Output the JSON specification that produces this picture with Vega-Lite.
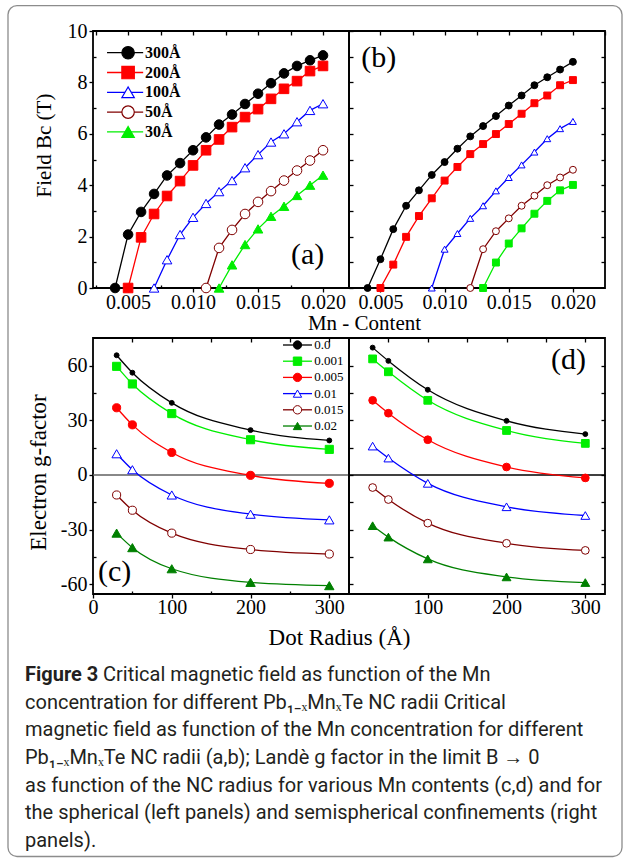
{
"$schema": "https://vega.github.io/schema/vega-lite/v6.json",
"padding": {"left": 7, "top": 4, "right": 3, "bottom": 5},
"bounds": "flush",
"spacing": 620,
"config": {
  "locale": {"number": {"decimal": ".", "thousands": ",", "grouping": [3], "currency": ["$", ""], "minus": "-"}},
  "view": {"stroke": "black", "strokeWidth": 1.8},
  "axis": {"labelFont": "Liberation Serif", "titleFont": "Liberation Serif", "labelFontSize": 20, "titleFontWeight": "normal", "labelColor": "black", "titleColor": "black", "tickColor": "black", "tickWidth": 1.3, "domain": false, "grid": false, "labelFlush": false, "labelOverlap": false, "labelBound": false}
},
"datasets": {
  "a": [
    {"s":"300Å","x":0.004,"y":0},{"s":"300Å","x":0.005,"y":2.08},{"s":"300Å","x":0.006,"y":2.96},{"s":"300Å","x":0.007,"y":3.66},{"s":"300Å","x":0.008,"y":4.38},{"s":"300Å","x":0.009,"y":4.86},{"s":"300Å","x":0.010,"y":5.36},{"s":"300Å","x":0.011,"y":5.86},{"s":"300Å","x":0.012,"y":6.36},{"s":"300Å","x":0.013,"y":6.75},{"s":"300Å","x":0.014,"y":7.16},{"s":"300Å","x":0.015,"y":7.56},{"s":"300Å","x":0.016,"y":7.97},{"s":"300Å","x":0.017,"y":8.35},{"s":"300Å","x":0.018,"y":8.64},{"s":"300Å","x":0.019,"y":8.86},{"s":"300Å","x":0.020,"y":9.05},
    {"s":"200Å","x":0.005,"y":0},{"s":"200Å","x":0.006,"y":1.97},{"s":"200Å","x":0.007,"y":2.88},{"s":"200Å","x":0.008,"y":3.58},{"s":"200Å","x":0.009,"y":4.16},{"s":"200Å","x":0.010,"y":4.77},{"s":"200Å","x":0.011,"y":5.36},{"s":"200Å","x":0.012,"y":5.78},{"s":"200Å","x":0.013,"y":6.26},{"s":"200Å","x":0.014,"y":6.65},{"s":"200Å","x":0.015,"y":6.96},{"s":"200Å","x":0.016,"y":7.36},{"s":"200Å","x":0.017,"y":7.75},{"s":"200Å","x":0.018,"y":8.05},{"s":"200Å","x":0.019,"y":8.44},{"s":"200Å","x":0.020,"y":8.64},
    {"s":"100Å","x":0.007,"y":0},{"s":"100Å","x":0.008,"y":1.10},{"s":"100Å","x":0.009,"y":2.08},{"s":"100Å","x":0.010,"y":2.75},{"s":"100Å","x":0.011,"y":3.29},{"s":"100Å","x":0.012,"y":3.75},{"s":"100Å","x":0.013,"y":4.18},{"s":"100Å","x":0.014,"y":4.68},{"s":"100Å","x":0.015,"y":5.19},{"s":"100Å","x":0.016,"y":5.68},{"s":"100Å","x":0.017,"y":6.0},{"s":"100Å","x":0.018,"y":6.47},{"s":"100Å","x":0.019,"y":6.91},{"s":"100Å","x":0.020,"y":7.17},
    {"s":"50Å","x":0.011,"y":0},{"s":"50Å","x":0.012,"y":1.56},{"s":"50Å","x":0.013,"y":2.26},{"s":"50Å","x":0.014,"y":2.88},{"s":"50Å","x":0.015,"y":3.35},{"s":"50Å","x":0.016,"y":3.77},{"s":"50Å","x":0.017,"y":4.18},{"s":"50Å","x":0.018,"y":4.57},{"s":"50Å","x":0.019,"y":4.96},{"s":"50Å","x":0.020,"y":5.36},
    {"s":"30Å","x":0.012,"y":0},{"s":"30Å","x":0.013,"y":0.9},{"s":"30Å","x":0.014,"y":1.69},{"s":"30Å","x":0.015,"y":2.3},{"s":"30Å","x":0.016,"y":2.79},{"s":"30Å","x":0.017,"y":3.18},{"s":"30Å","x":0.018,"y":3.6},{"s":"30Å","x":0.019,"y":4.0},{"s":"30Å","x":0.020,"y":4.39}
  ],
  "b": [
    {"s":"300Å","x":0.004,"y":0},{"s":"300Å","x":0.005,"y":1.12},{"s":"300Å","x":0.006,"y":2.29},{"s":"300Å","x":0.007,"y":3.2},{"s":"300Å","x":0.008,"y":3.8},{"s":"300Å","x":0.009,"y":4.4},{"s":"300Å","x":0.010,"y":4.9},{"s":"300Å","x":0.011,"y":5.42},{"s":"300Å","x":0.012,"y":5.9},{"s":"300Å","x":0.013,"y":6.3},{"s":"300Å","x":0.014,"y":6.69},{"s":"300Å","x":0.015,"y":7.1},{"s":"300Å","x":0.016,"y":7.49},{"s":"300Å","x":0.017,"y":7.89},{"s":"300Å","x":0.018,"y":8.2},{"s":"300Å","x":0.019,"y":8.5},{"s":"300Å","x":0.020,"y":8.8},
    {"s":"200Å","x":0.005,"y":0},{"s":"200Å","x":0.006,"y":0.91},{"s":"200Å","x":0.007,"y":1.99},{"s":"200Å","x":0.008,"y":2.8},{"s":"200Å","x":0.009,"y":3.49},{"s":"200Å","x":0.010,"y":4.18},{"s":"200Å","x":0.011,"y":4.71},{"s":"200Å","x":0.012,"y":5.21},{"s":"200Å","x":0.013,"y":5.6},{"s":"200Å","x":0.014,"y":5.99},{"s":"200Å","x":0.015,"y":6.38},{"s":"200Å","x":0.016,"y":6.78},{"s":"200Å","x":0.017,"y":7.19},{"s":"200Å","x":0.018,"y":7.49},{"s":"200Å","x":0.019,"y":7.89},{"s":"200Å","x":0.020,"y":8.09},
    {"s":"100Å","x":0.009,"y":0},{"s":"100Å","x":0.010,"y":1.51},{"s":"100Å","x":0.011,"y":2.12},{"s":"100Å","x":0.012,"y":2.71},{"s":"100Å","x":0.013,"y":3.2},{"s":"100Å","x":0.014,"y":3.78},{"s":"100Å","x":0.015,"y":4.3},{"s":"100Å","x":0.016,"y":4.79},{"s":"100Å","x":0.017,"y":5.29},{"s":"100Å","x":0.018,"y":5.81},{"s":"100Å","x":0.019,"y":6.2},{"s":"100Å","x":0.020,"y":6.48},
    {"s":"50Å","x":0.012,"y":0},{"s":"50Å","x":0.013,"y":1.51},{"s":"50Å","x":0.014,"y":2.21},{"s":"50Å","x":0.015,"y":2.71},{"s":"50Å","x":0.016,"y":3.2},{"s":"50Å","x":0.017,"y":3.59},{"s":"50Å","x":0.018,"y":4.0},{"s":"50Å","x":0.019,"y":4.3},{"s":"50Å","x":0.020,"y":4.6},
    {"s":"30Å","x":0.013,"y":0},{"s":"30Å","x":0.014,"y":0.99},{"s":"30Å","x":0.015,"y":1.73},{"s":"30Å","x":0.016,"y":2.32},{"s":"30Å","x":0.017,"y":2.89},{"s":"30Å","x":0.018,"y":3.39},{"s":"30Å","x":0.019,"y":3.8},{"s":"30Å","x":0.020,"y":4.01}
  ],
  "c": [
    {"s":"0.0","x":30,"y":65.9},{"s":"0.0","x":50,"y":56.3},{"s":"0.0","x":100,"y":39.7},{"s":"0.0","x":200,"y":24.7},{"s":"0.0","x":300,"y":19.0},
    {"s":"0.001","x":30,"y":59.8},{"s":"0.001","x":50,"y":50.1},{"s":"0.001","x":100,"y":33.8},{"s":"0.001","x":200,"y":19.4},{"s":"0.001","x":300,"y":14.1},
    {"s":"0.005","x":30,"y":37.0},{"s":"0.005","x":50,"y":27.6},{"s":"0.005","x":100,"y":12.4},{"s":"0.005","x":200,"y":-0.2},{"s":"0.005","x":300,"y":-4.6},
    {"s":"0.01","x":30,"y":11.7},{"s":"0.01","x":50,"y":2.9},{"s":"0.01","x":100,"y":-11.0},{"s":"0.01","x":200,"y":-21.6},{"s":"0.01","x":300,"y":-24.7},
    {"s":"0.015","x":30,"y":-11.0},{"s":"0.015","x":50,"y":-19.4},{"s":"0.015","x":100,"y":-32.0},{"s":"0.015","x":200,"y":-41.0},{"s":"0.015","x":300,"y":-43.5},
    {"s":"0.02","x":30,"y":-32.0},{"s":"0.02","x":50,"y":-40.0},{"s":"0.02","x":100,"y":-51.6},{"s":"0.02","x":200,"y":-59.1},{"s":"0.02","x":300,"y":-60.9}
  ],
  "d": [
    {"s":"0.0","x":30,"y":70.1},{"s":"0.0","x":50,"y":62.8},{"s":"0.0","x":100,"y":46.9},{"s":"0.0","x":200,"y":29.8},{"s":"0.0","x":300,"y":22.5},
    {"s":"0.001","x":30,"y":63.9},{"s":"0.001","x":50,"y":56.8},{"s":"0.001","x":100,"y":41.1},{"s":"0.001","x":200,"y":24.5},{"s":"0.001","x":300,"y":17.4},
    {"s":"0.005","x":30,"y":41.1},{"s":"0.005","x":50,"y":34.0},{"s":"0.005","x":100,"y":19.4},{"s":"0.005","x":200,"y":4.4},{"s":"0.005","x":300,"y":-1.6},
    {"s":"0.01","x":30,"y":15.9},{"s":"0.01","x":50,"y":9.3},{"s":"0.01","x":100,"y":-4.6},{"s":"0.01","x":200,"y":-17.5},{"s":"0.01","x":300,"y":-22.3},
    {"s":"0.015","x":30,"y":-6.9},{"s":"0.015","x":50,"y":-13.5},{"s":"0.015","x":100,"y":-26.5},{"s":"0.015","x":200,"y":-37.6},{"s":"0.015","x":300,"y":-41.5},
    {"s":"0.02","x":30,"y":-27.9},{"s":"0.02","x":50,"y":-34.2},{"s":"0.02","x":100,"y":-46.2},{"s":"0.02","x":200,"y":-56.1},{"s":"0.02","x":300,"y":-59.2}
  ],
  "legA": [{"s":"300Å"},{"s":"200Å"},{"s":"100Å"},{"s":"50Å"},{"s":"30Å"}],
  "legC": [{"s":"0.0"},{"s":"0.001"},{"s":"0.005"},{"s":"0.01"},{"s":"0.015"},{"s":"0.02"}],
  "caption": [
    {"line": 2, "t": "concentration for different Pb₁₋ₓMnₓTe NC radii Critical"},
    {"line": 3, "t": "magnetic field as function of the Mn concentration for different"},
    {"line": 4, "t": "Pb₁₋ₓMnₓTe NC radii (a,b); Landè g factor in the limit B → 0"},
    {"line": 5, "t": "as function of the NC radius for various Mn contents (c,d) and for"},
    {"line": 6, "t": "the spherical (left panels) and semispherical confinements (right"},
    {"line": 7, "t": "panels)."}
  ]
},
"vconcat": [
  {
    "columns": 3,
    "spacing": {"row": 50, "column": 0},
    "bounds": "flush",
    "resolve": {
      "scale": {"color": "independent", "fill": "independent", "stroke": "independent", "shape": "independent"},
      "legend": {"color": "independent", "fill": "independent", "stroke": "independent", "shape": "independent"}
    },
    "concat": [
      {"width": 85, "height": 257, "view": {"stroke": null}, "data": {"values": [{}]}, "mark": "text", "encoding": {"text": {"value": ""}}},
      {
        "width": 256, "height": 257,
        "data": {"name": "a"},
        "layer": [
          {
            "mark": {"type": "line", "strokeWidth": 1.3},
            "encoding": {
              "x": {"field": "x", "type": "quantitative", "scale": {"domain": [0.0023, 0.022], "nice": false, "zero": false},
                "axis": {"orient": "bottom", "values": [0.005, 0.01, 0.015, 0.02], "format": ".3f", "tickSize": 4, "labelPadding": 0, "title": "Mn - Content", "titleFontSize": 21, "titleX": 271, "titlePadding": 0}},
              "y": {"field": "y", "type": "quantitative", "scale": {"domain": [0, 10], "nice": false, "zero": false},
                "axis": {"orient": "left", "values": [0, 2, 4, 6, 8, 10], "tickSize": 4, "labelPadding": 2, "title": "Field  Bc (T)", "titleFontSize": 21, "titleY": 114, "titlePadding": 13}},
              "color": {"field": "s", "type": "nominal", "scale": {"domain": ["300Å","200Å","100Å","50Å","30Å"], "range": ["#000000","#ff0000","#0000ff","#800000","#00ee00"]}, "legend": null}
            }
          },
          {
            "data": {"name": "legA"},
            "mark": {"type": "rule", "strokeWidth": 1.3},
            "encoding": {
              "x": {"datum": 0.00338, "type": "quantitative", "axis": null},
              "x2": {"datum": 0.00616},
              "y": {"field": "s", "type": "nominal", "scale": {"type": "point", "domain": ["300Å","200Å","100Å","50Å","30Å","a1","a2","a3","a4","a5","a6","a7"], "padding": 0.99, "align": 0.554}, "axis": null},
              "color": {"field": "s", "type": "nominal", "legend": null}
            }
          },
          {
            "mark": {"type": "point", "opacity": 1, "strokeWidth": 1},
            "encoding": {
              "x": {"field": "x", "type": "quantitative", "axis": {"orient": "top", "values": [0.0025, 0.005, 0.0075, 0.01, 0.0125, 0.015, 0.0175, 0.02], "labels": false, "tickSize": -4, "title": null}},
              "y": {"field": "y", "type": "quantitative", "scale": {"domain": [0, 10], "nice": false, "zero": false}, "axis": null},
              "shape": {"field": "s", "type": "nominal", "scale": {"domain": ["300Å","200Å","100Å","50Å","30Å"], "range": ["circle","square","triangle-up","circle","triangle-up"]}, "legend": null},
              "fill": {"field": "s", "type": "nominal", "scale": {"domain": ["300Å","200Å","100Å","50Å","30Å"], "range": ["#000000","#ff0000","#ffffff","#ffffff","#00ee00"]}, "legend": null},
              "stroke": {"field": "s", "type": "nominal", "scale": {"domain": ["300Å","200Å","100Å","50Å","30Å"], "range": ["#000000","#ff0000","#0000ff","#800000","#00ee00"]}, "legend": null},
              "size": {"value": 92}
            }
          },
          {
            "data": {"name": "legA"},
            "mark": {"type": "point", "opacity": 1, "strokeWidth": 1.2, "size": 155},
            "encoding": {
              "x": {"datum": 0.0050, "type": "quantitative", "axis": null},
              "y": {"field": "s", "type": "nominal", "scale": {"type": "point", "domain": ["300Å","200Å","100Å","50Å","30Å","a1","a2","a3","a4","a5","a6","a7"], "padding": 0.99, "align": 0.554}, "axis": null},
              "shape": {"field": "s", "type": "nominal", "legend": null},
              "fill": {"field": "s", "type": "nominal", "legend": null},
              "stroke": {"field": "s", "type": "nominal", "legend": null}
            }
          },
          {
            "data": {"name": "legA"},
            "mark": {"type": "text", "font": "Liberation Serif", "fontSize": 16, "fontWeight": "bold", "align": "left", "baseline": "middle", "color": "black"},
            "encoding": {
              "x": {"datum": 0.00631, "type": "quantitative", "axis": null},
              "y": {"field": "s", "type": "nominal", "scale": {"type": "point", "domain": ["300Å","200Å","100Å","50Å","30Å","a1","a2","a3","a4","a5","a6","a7"], "padding": 0.99, "align": 0.554}, "axis": null},
              "text": {"field": "s"}
            }
          },
          {
            "data": {"values": [{}]},
            "mark": {"type": "text", "font": "Liberation Serif", "fontSize": 30, "align": "right", "baseline": "alphabetic", "color": "black"},
            "encoding": {
              "x": {"datum": 0.0201, "type": "quantitative", "axis": {"orient": "bottom", "values": [0.0025, 0.0075, 0.0125, 0.0175], "labels": false, "tickSize": -3, "title": null}},
              "y": {"datum": 0.93, "type": "quantitative", "scale": {"domain": [0, 10], "nice": false, "zero": false}, "axis": {"orient": "left", "values": [1, 3, 5, 7, 9], "labels": false, "tickSize": -3, "title": null}},
              "text": {"value": "(a)"}
            }
          }
        ],
        "resolve": {"scale": {"y": "independent"}, "axis": {"x": "independent", "y": "independent"}}
      },
      {
        "width": 256, "height": 257,
        "data": {"name": "b"},
        "layer": [
          {
            "mark": {"type": "line", "strokeWidth": 1.3},
            "encoding": {
              "x": {"field": "x", "type": "quantitative", "scale": {"domain": [0.00255, 0.0225], "nice": false, "zero": false},
                "axis": {"orient": "bottom", "values": [0.005, 0.01, 0.015, 0.02], "format": ".3f", "tickSize": 4, "labelPadding": 0, "title": null}},
              "y": {"field": "y", "type": "quantitative", "scale": {"domain": [0, 10], "nice": false, "zero": false},
                "axis": {"orient": "left", "values": [0, 1, 2, 3, 4, 5, 6, 7, 8, 9, 10], "labels": false, "tickSize": -4, "title": null}},
              "color": {"field": "s", "type": "nominal", "scale": {"domain": ["300Å","200Å","100Å","50Å","30Å"], "range": ["#000000","#ff0000","#0000ff","#800000","#00ee00"]}, "legend": null}
            }
          },
          {
            "mark": {"type": "point", "opacity": 1, "strokeWidth": 1},
            "encoding": {
              "x": {"field": "x", "type": "quantitative", "axis": {"orient": "top", "values": [0.005, 0.0075, 0.01, 0.0125, 0.015, 0.0175, 0.02, 0.0225], "labels": false, "tickSize": -4, "title": null}},
              "y": {"field": "y", "type": "quantitative", "axis": {"orient": "right", "values": [1, 2, 3, 4, 5, 6, 7, 8, 9], "labels": false, "tickSize": -4, "title": null}},
              "shape": {"field": "s", "type": "nominal", "scale": {"domain": ["300Å","200Å","100Å","50Å","30Å"], "range": ["circle","square","triangle-up","circle","square"]}, "legend": null},
              "fill": {"field": "s", "type": "nominal", "scale": {"domain": ["300Å","200Å","100Å","50Å","30Å"], "range": ["#000000","#ff0000","#ffffff","#ffffff","#00ee00"]}, "legend": null},
              "stroke": {"field": "s", "type": "nominal", "scale": {"domain": ["300Å","200Å","100Å","50Å","30Å"], "range": ["#000000","#ff0000","#0000ff","#800000","#00ee00"]}, "legend": null},
              "size": {"value": 48}
            }
          },
          {
            "data": {"values": [{}]},
            "mark": {"type": "text", "font": "Liberation Serif", "fontSize": 30, "align": "left", "baseline": "alphabetic", "color": "black"},
            "encoding": {
              "x": {"datum": 0.0035, "type": "quantitative", "axis": null},
              "y": {"datum": 8.6, "type": "quantitative", "axis": null},
              "text": {"value": "(b)"}
            }
          }
        ],
        "resolve": {"axis": {"x": "independent", "y": "independent"}}
      },
      {"width": 85, "height": 256, "view": {"stroke": null}, "data": {"values": [{}]}, "mark": "text", "encoding": {"text": {"value": ""}}},
      {
        "width": 256, "height": 256,
        "data": {"name": "c"},
        "layer": [
          {
            "data": {"values": [{}]},
            "mark": {"type": "rule", "color": "#606060", "strokeWidth": 1.3},
            "encoding": {"y": {"datum": 0, "type": "quantitative", "scale": {"domain": [-65.5, 75.4], "nice": false, "zero": false}, "axis": null}}
          },
          {
            "mark": {"type": "line", "strokeWidth": 1.3, "interpolate": "monotone"},
            "encoding": {
              "x": {"field": "x", "type": "quantitative", "scale": {"domain": [0, 325], "nice": false, "zero": false},
                "axis": {"orient": "bottom", "values": [0, 100, 200, 300], "tickSize": 4, "labelPadding": -1, "title": "Dot Radius (Å)", "titleFontSize": 23, "titleX": 246, "titlePadding": 9}},
              "y": {"field": "y", "type": "quantitative", "scale": {"domain": [-65.5, 75.4], "nice": false, "zero": false},
                "axis": {"orient": "left", "values": [-60, -30, 0, 30, 60], "tickSize": 4, "labelPadding": 2, "title": "Electron  g-factor", "titleFontSize": 23, "titleY": 134, "titlePadding": 10}},
              "color": {"field": "s", "type": "nominal", "scale": {"domain": ["0.0","0.001","0.005","0.01","0.015","0.02"], "range": ["#000000","#00ee00","#ff0000","#0000ff","#800000","#008000"]}, "legend": null}
            }
          },
          {
            "data": {"name": "legC"},
            "mark": {"type": "rule", "strokeWidth": 1.3},
            "encoding": {
              "x": {"datum": 241.2, "type": "quantitative", "axis": null},
              "x2": {"datum": 278.0},
              "y": {"field": "s", "type": "nominal", "scale": {"type": "point", "domain": ["0.0","0.001","0.005","0.01","0.015","0.02","c1","c2","c3","c4","c5","c6","c7","c8","c9"], "padding": 0.9, "align": 0.24}, "axis": null},
              "color": {"field": "s", "type": "nominal", "legend": null}
            }
          },
          {
            "mark": {"type": "point", "opacity": 1, "strokeWidth": 1},
            "encoding": {
              "x": {"field": "x", "type": "quantitative", "axis": {"orient": "top", "values": [50, 100, 150, 200, 250, 300], "labels": false, "tickSize": -4, "title": null}},
              "y": {"field": "y", "type": "quantitative", "scale": {"domain": [-65.5, 75.4], "nice": false, "zero": false}, "axis": null},
              "shape": {"field": "s", "type": "nominal", "scale": {"domain": ["0.0","0.001","0.005","0.01","0.015","0.02"], "range": ["circle","square","circle","triangle-up","circle","triangle-up"]}, "legend": null},
              "fill": {"field": "s", "type": "nominal", "scale": {"domain": ["0.0","0.001","0.005","0.01","0.015","0.02"], "range": ["#000000","#00ee00","#ff0000","#ffffff","#ffffff","#008000"]}, "legend": null},
              "stroke": {"field": "s", "type": "nominal", "scale": {"domain": ["0.0","0.001","0.005","0.01","0.015","0.02"], "range": ["#000000","#00ee00","#ff0000","#0000ff","#800000","#008000"]}, "legend": null},
              "size": {"condition": [{"test": "datum.s === '0.0'", "value": 24}, {"test": "datum.s === '0.01' || datum.s === '0.02'", "value": 88}], "value": 66}
            }
          },
          {
            "data": {"name": "legC"},
            "mark": {"type": "point", "opacity": 1, "strokeWidth": 1, "size": 70},
            "encoding": {
              "x": {"datum": 259.6, "type": "quantitative", "axis": null},
              "y": {"field": "s", "type": "nominal", "scale": {"type": "point", "domain": ["0.0","0.001","0.005","0.01","0.015","0.02","c1","c2","c3","c4","c5","c6","c7","c8","c9"], "padding": 0.9, "align": 0.24}, "axis": null},
              "shape": {"field": "s", "type": "nominal", "legend": null},
              "fill": {"field": "s", "type": "nominal", "legend": null},
              "stroke": {"field": "s", "type": "nominal", "legend": null}
            }
          },
          {
            "data": {"name": "legC"},
            "mark": {"type": "text", "font": "Liberation Serif", "fontSize": 13, "align": "left", "baseline": "middle", "color": "black"},
            "encoding": {
              "x": {"datum": 281, "type": "quantitative", "axis": null},
              "y": {"field": "s", "type": "nominal", "scale": {"type": "point", "domain": ["0.0","0.001","0.005","0.01","0.015","0.02","c1","c2","c3","c4","c5","c6","c7","c8","c9"], "padding": 0.9, "align": 0.24}, "axis": null},
              "text": {"field": "s"}
            }
          },
          {
            "data": {"values": [{}]},
            "mark": {"type": "text", "font": "Liberation Serif", "fontSize": 30, "align": "left", "baseline": "alphabetic", "color": "black"},
            "encoding": {
              "x": {"datum": 6.4, "type": "quantitative", "axis": {"orient": "bottom", "values": [50, 150, 250], "labels": false, "tickSize": -3, "title": null}},
              "y": {"datum": -58.2, "type": "quantitative", "scale": {"domain": [-65.5, 75.4], "nice": false, "zero": false}, "axis": {"orient": "left", "values": [-45, -15, 15, 45], "labels": false, "tickSize": -3, "title": null}},
              "text": {"value": "(c)"}
            }
          }
        ],
        "resolve": {"scale": {"y": "independent"}, "axis": {"x": "independent", "y": "independent"}}
      },
      {
        "width": 256, "height": 256,
        "data": {"name": "d"},
        "layer": [
          {
            "data": {"values": [{}]},
            "mark": {"type": "rule", "color": "#000000", "strokeWidth": 1.3},
            "encoding": {"y": {"datum": 0, "type": "quantitative", "scale": {"domain": [-65.5, 75.4], "nice": false, "zero": false}, "axis": null}}
          },
          {
            "mark": {"type": "line", "strokeWidth": 1.3, "interpolate": "monotone"},
            "encoding": {
              "x": {"field": "x", "type": "quantitative", "scale": {"domain": [0, 325], "nice": false, "zero": false},
                "axis": {"orient": "bottom", "values": [100, 200, 300], "tickSize": 4, "labelPadding": -1, "title": null}},
              "y": {"field": "y", "type": "quantitative",
                "axis": {"orient": "left", "values": [-60, -45, -30, -15, 0, 15, 30, 45, 60], "labels": false, "tickSize": -4, "title": null}},
              "color": {"field": "s", "type": "nominal", "scale": {"domain": ["0.0","0.001","0.005","0.01","0.015","0.02"], "range": ["#000000","#00ee00","#ff0000","#0000ff","#800000","#008000"]}, "legend": null}
            }
          },
          {
            "mark": {"type": "point", "opacity": 1, "strokeWidth": 1},
            "encoding": {
              "x": {"field": "x", "type": "quantitative", "axis": {"orient": "top", "values": [50, 100, 150, 200, 250, 300], "labels": false, "tickSize": -4, "title": null}},
              "y": {"field": "y", "type": "quantitative", "axis": {"orient": "right", "values": [-60, -45, -30, -15, 0, 15, 30, 45, 60], "labels": false, "tickSize": -4, "title": null}},
              "shape": {"field": "s", "type": "nominal", "scale": {"domain": ["0.0","0.001","0.005","0.01","0.015","0.02"], "range": ["circle","square","circle","triangle-up","circle","triangle-up"]}, "legend": null},
              "fill": {"field": "s", "type": "nominal", "scale": {"domain": ["0.0","0.001","0.005","0.01","0.015","0.02"], "range": ["#000000","#00ee00","#ff0000","#ffffff","#ffffff","#008000"]}, "legend": null},
              "stroke": {"field": "s", "type": "nominal", "scale": {"domain": ["0.0","0.001","0.005","0.01","0.015","0.02"], "range": ["#000000","#00ee00","#ff0000","#0000ff","#800000","#008000"]}, "legend": null},
              "size": {"condition": [{"test": "datum.s === '0.0'", "value": 24}, {"test": "datum.s === '0.01' || datum.s === '0.02'", "value": 78}], "value": 60}
            }
          },
          {
            "data": {"values": [{}]},
            "mark": {"type": "text", "font": "Liberation Serif", "fontSize": 30, "align": "right", "baseline": "alphabetic", "color": "black"},
            "encoding": {
              "x": {"datum": 301, "type": "quantitative", "axis": null},
              "y": {"datum": 58.2, "type": "quantitative", "axis": null},
              "text": {"value": "(d)"}
            }
          }
        ],
        "resolve": {"axis": {"x": "independent", "y": "independent"}}
      }
    ]
  },
  {
    "width": 614, "height": 205.5,
    "view": {"stroke": null},
    "layer": [
      {
        "data": {"values": [{}]},
        "mark": {"type": "rect", "fill": "transparent", "stroke": "#8c8c8c", "strokeWidth": 1.3, "cornerRadius": 9},
        "encoding": {
          "x": {"datum": 0, "type": "quantitative", "scale": {"domain": [0, 1], "nice": false, "zero": false}, "axis": null},
          "x2": {"datum": 1},
          "y": {"datum": -23.17, "type": "quantitative", "scale": {"domain": [0.1336, 7.553], "reverse": true, "nice": false, "zero": false}, "axis": null},
          "y2": {"datum": 7.553}
        }
      },
      {
        "data": {"values": [{"line": 1, "t": "Figure 3"}]},
        "mark": {"type": "text", "align": "left", "baseline": "middle", "font": "Roboto", "fontSize": 20, "fontWeight": "bold", "color": "#231f20", "dx": 17},
        "encoding": {
          "x": {"datum": 0, "type": "quantitative", "axis": null},
          "y": {"field": "line", "type": "quantitative", "axis": null},
          "text": {"field": "t"}
        }
      },
      {
        "data": {"values": [{"line": 1, "t": "Critical magnetic field as function of the Mn"}]},
        "mark": {"type": "text", "align": "left", "baseline": "middle", "font": "Roboto", "fontSize": 20, "color": "#231f20", "dx": 95},
        "encoding": {
          "x": {"datum": 0, "type": "quantitative", "axis": null},
          "y": {"field": "line", "type": "quantitative", "axis": null},
          "text": {"field": "t"}
        }
      },
      {
        "data": {"name": "caption"},
        "mark": {"type": "text", "align": "left", "baseline": "middle", "font": "Roboto", "fontSize": 20, "color": "#231f20", "dx": 17},
        "encoding": {
          "x": {"datum": 0, "type": "quantitative", "axis": null},
          "y": {"field": "line", "type": "quantitative", "axis": null},
          "text": {"field": "t"}
        }
      }
    ]
  }
]
}
